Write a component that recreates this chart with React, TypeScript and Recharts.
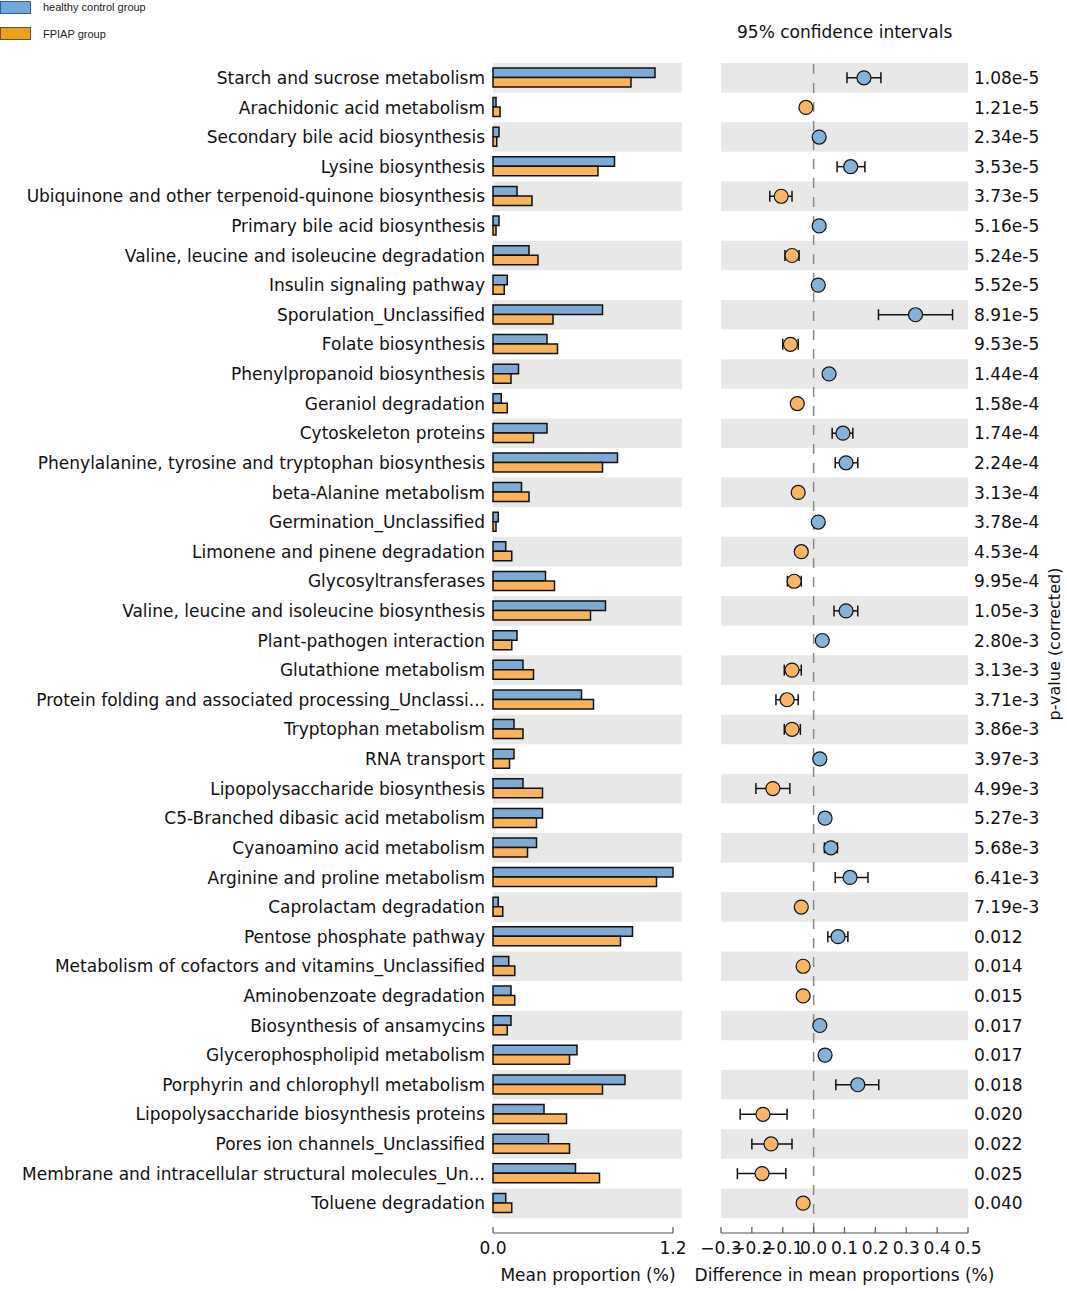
import React from 'react';
import {
  BarChart,
  Bar,
  ComposedChart,
  Scatter,
  ErrorBar,
  XAxis,
  YAxis,
  ReferenceArea,
  ReferenceLine,
} from 'recharts';

const categories = [
  'Starch and sucrose metabolism',
  'Arachidonic acid metabolism',
  'Secondary bile acid biosynthesis',
  'Lysine biosynthesis',
  'Ubiquinone and other terpenoid-quinone biosynthesis',
  'Primary bile acid biosynthesis',
  'Valine, leucine and isoleucine degradation',
  'Insulin signaling pathway',
  'Sporulation_Unclassified',
  'Folate biosynthesis',
  'Phenylpropanoid biosynthesis',
  'Geraniol degradation',
  'Cytoskeleton proteins',
  'Phenylalanine, tyrosine and tryptophan biosynthesis',
  'beta-Alanine metabolism',
  'Germination_Unclassified',
  'Limonene and pinene degradation',
  'Glycosyltransferases',
  'Valine, leucine and isoleucine biosynthesis',
  'Plant-pathogen interaction',
  'Glutathione metabolism',
  'Protein folding and associated processing_Unclassi...',
  'Tryptophan metabolism',
  'RNA transport',
  'Lipopolysaccharide biosynthesis',
  'C5-Branched dibasic acid metabolism',
  'Cyanoamino acid metabolism',
  'Arginine and proline metabolism',
  'Caprolactam degradation',
  'Pentose phosphate pathway',
  'Metabolism of cofactors and vitamins_Unclassified',
  'Aminobenzoate degradation',
  'Biosynthesis of ansamycins',
  'Glycerophospholipid metabolism',
  'Porphyrin and chlorophyll metabolism',
  'Lipopolysaccharide biosynthesis proteins',
  'Pores ion channels_Unclassified',
  'Membrane and intracellular structural molecules_Un...',
  'Toluene degradation',
];

// mean proportion (%)
const healthy = [
  1.08, 0.02, 0.04, 0.81, 0.16, 0.04, 0.24, 0.095, 0.73, 0.36, 0.17, 0.055, 0.36,
  0.83, 0.19, 0.035, 0.085, 0.35, 0.75, 0.16, 0.2, 0.59, 0.14, 0.14, 0.2, 0.33,
  0.29, 1.2, 0.035, 0.93, 0.105, 0.12, 0.12, 0.56, 0.88, 0.34, 0.37, 0.55, 0.085,
];
const fpiap = [
  0.92, 0.047, 0.025, 0.7, 0.26, 0.02, 0.3, 0.075, 0.4, 0.43, 0.12, 0.095, 0.27,
  0.73, 0.24, 0.02, 0.125, 0.41, 0.65, 0.125, 0.27, 0.67, 0.2, 0.11, 0.33, 0.29,
  0.23, 1.09, 0.065, 0.85, 0.145, 0.145, 0.095, 0.51, 0.73, 0.49, 0.51, 0.71, 0.125,
];

// difference in mean proportions with 95% CI
const diff = [
  0.163, -0.025, 0.018, 0.12, -0.105, 0.018, -0.07, 0.015, 0.33, -0.075, 0.05,
  -0.053, 0.095, 0.105, -0.05, 0.015, -0.04, -0.063, 0.105, 0.028, -0.07, -0.086,
  -0.07, 0.02, -0.132, 0.037, 0.056, 0.118, -0.04, 0.079, -0.034, -0.034, 0.02,
  0.037, 0.143, -0.164, -0.138, -0.167, -0.034,
];
const ciLow = [
  0.108, -0.033, 0.01, 0.076, -0.142, 0.01, -0.093, 0.007, 0.21, -0.1, 0.042,
  -0.061, 0.06, 0.07, -0.058, 0.007, -0.048, -0.085, 0.066, 0.02, -0.095, -0.122,
  -0.095, 0.012, -0.187, 0.022, 0.035, 0.07, -0.048, 0.046, -0.042, -0.042, 0.012,
  0.022, 0.072, -0.238, -0.2, -0.247, -0.042,
];
const ciHigh = [
  0.218, -0.017, 0.026, 0.166, -0.07, 0.026, -0.047, 0.023, 0.45, -0.05, 0.058,
  -0.045, 0.127, 0.143, -0.042, 0.023, -0.032, -0.04, 0.143, 0.036, -0.04, -0.05,
  -0.043, 0.028, -0.077, 0.052, 0.077, 0.176, -0.032, 0.111, -0.026, -0.026, 0.028,
  0.052, 0.211, -0.086, -0.07, -0.09, -0.026,
];

const pValues = [
  '1.08e-5', '1.21e-5', '2.34e-5', '3.53e-5', '3.73e-5', '5.16e-5', '5.24e-5',
  '5.52e-5', '8.91e-5', '9.53e-5', '1.44e-4', '1.58e-4', '1.74e-4', '2.24e-4',
  '3.13e-4', '3.78e-4', '4.53e-4', '9.95e-4', '1.05e-3', '2.80e-3', '3.13e-3',
  '3.71e-3', '3.86e-3', '3.97e-3', '4.99e-3', '5.27e-3', '5.68e-3', '6.41e-3',
  '7.19e-3', '0.012', '0.014', '0.015', '0.017', '0.017', '0.018', '0.020',
  '0.022', '0.025', '0.040',
];

const meanTicks = [0, 1.2];
const diffTicks = [-0.3, -0.2, -0.1, 0, 0.1, 0.2, 0.3, 0.4, 0.5];

const rows = categories.map((name, i) => ({
  name,
  healthy: healthy[i],
  fpiap: fpiap[i],
  diff: diff[i],
  err: [diff[i] - ciLow[i], ciHigh[i] - diff[i]],
  p: pValues[i],
}));

const FONT = '"DejaVu Sans", sans-serif';
const BLUE = '#7eaad4';
const ORANGE = '#f8b35c';
const DOT_BLUE = '#86b2d9';
const DOT_ORANGE = '#f8b566';
const BAND = '#e8e8e8';

const W = 1067;
const H = 1291;
const TOP = 63;
const XAXIS_H = 58;
const MID_LEFT = 660;

const NameTick = (props: any) => {
  const { x, y, payload } = props;
  return (
    <text x={x} y={y} dy="0.36em" textAnchor="end" fontSize={17} fill="#111" fontFamily={FONT}>
      {payload.value}
    </text>
  );
};

const PTick = (props: any) => {
  const { x, y, index } = props;
  return (
    <text x={x - 2} y={y} dy="0.36em" textAnchor="start" fontSize={17} fill="#111" fontFamily={FONT}>
      {pValues[index]}
    </text>
  );
};

const fmt = (v: number) => (v < 0 ? '\u2212' + Math.abs(v).toFixed(1) : v.toFixed(1));

const InTick = (props: any) => {
  const { x, y, payload } = props;
  return (
    <g>
      <line x1={x} x2={x} y1={y - 6} y2={y} stroke="#555" strokeWidth={1.2} />
      <text x={x} y={y + 21} textAnchor="middle" fontSize={17} fill="#111" fontFamily={FONT}>
        {fmt(payload.value)}
      </text>
    </g>
  );
};

const PLabel = (props: any) => {
  const { viewBox } = props;
  const cx = viewBox.x + viewBox.width - 13;
  const cy = viewBox.y + viewBox.height / 2 - 4;
  return (
    <text
      x={cx}
      y={cy}
      transform={`rotate(-90, ${cx}, ${cy})`}
      textAnchor="middle"
      dominantBaseline="central"
      fontSize={16}
      fill="#111"
      fontFamily={FONT}
    >
      p-value (corrected)
    </text>
  );
};

const Dot = (props: any) => {
  const { cx, cy, payload } = props;
  if (cx == null || cy == null) return null;
  return (
    <circle
      cx={cx}
      cy={cy}
      r={7}
      fill={payload.diff >= 0 ? DOT_BLUE : DOT_ORANGE}
      stroke="#111"
      strokeWidth={1.2}
    />
  );
};

const NoDot = () => <g />;

export default function App() {
  const even = categories.filter((_, i) => i % 2 === 0);

  return (
    <div style={{ position: 'absolute', left: 0, top: 0, width: W, height: H, background: '#fff', fontFamily: FONT }}>
      {/* legend */}
      <div style={{ position: 'absolute', left: 0, top: 0, fontFamily: '"Liberation Sans", Arial, sans-serif', fontSize: 11, color: '#222' }}>
        <div style={{ position: 'absolute', left: 0, top: 1, width: 29, height: 11, background: '#6fa8dc', border: '1px solid #3d5d80' }} />
        <div style={{ position: 'absolute', left: 43, top: 1, whiteSpace: 'nowrap' }}>healthy control group</div>
        <div style={{ position: 'absolute', left: 0, top: 27, width: 29, height: 11, background: '#e8a21c', border: '1px solid #6b5020' }} />
        <div style={{ position: 'absolute', left: 43, top: 28, whiteSpace: 'nowrap' }}>FPIAP group</div>
      </div>

      <div style={{ position: 'absolute', left: 737, top: 22, fontSize: 17, color: '#111', whiteSpace: 'nowrap' }}>
        95% confidence intervals
      </div>

      {/* mean proportions */}
      <div style={{ position: 'absolute', left: 0, top: 0 }}>
        <BarChart
          width={700}
          height={H}
          data={rows}
          layout="vertical"
          margin={{ top: TOP, right: 27, left: 0, bottom: 0 }}
          barSize={9.5}
          barGap={0}
        >
          {even.map((c) => (
            <ReferenceArea
              key={c}
              y1={c}
              y2={c}
              x1={0}
              x2={1.26}
              fill={BAND}
              fillOpacity={1}
              stroke="none"
              ifOverflow="visible"
            />
          ))}
          <XAxis
            type="number"
            domain={[0, 1.2]}
            ticks={meanTicks}
            interval={0}
            height={XAXIS_H}
            tickSize={0}
            tickMargin={0}
            tickLine={false}
            tick={<InTick />}
            axisLine={{ stroke: '#555', strokeWidth: 1.2 }}
            label={{ value: 'Mean proportion (%)', position: 'insideBottom', offset: 10, dx: 5, fontSize: 17, fill: '#111', fontFamily: FONT }}
          />
          <YAxis
            type="category"
            dataKey="name"
            width={493}
            padding={{ top: 0, bottom: 15 }}
            tickLine={false}
            axisLine={false}
            interval={0}
            tick={<NameTick />}
          />
          <Bar dataKey="healthy" fill={BLUE} stroke="#111" strokeWidth={1.5} isAnimationActive={false} />
          <Bar dataKey="fpiap" fill={ORANGE} stroke="#111" strokeWidth={1.5} isAnimationActive={false} />
        </BarChart>
      </div>

      {/* difference in mean proportions */}
      <div style={{ position: 'absolute', left: MID_LEFT, top: 0 }}>
        <ComposedChart
          width={W - MID_LEFT}
          height={H}
          data={rows}
          layout="vertical"
          margin={{ top: TOP, right: 0, left: 721 - MID_LEFT, bottom: 0 }}
        >
          {even.map((c) => (
            <ReferenceArea
              key={c}
              y1={c}
              y2={c}
              fill={BAND}
              fillOpacity={1}
              stroke="none"
              ifOverflow="visible"
            />
          ))}
          <ReferenceLine x={0} stroke="#888" strokeWidth={1.5} strokeDasharray="10 9" />
          <XAxis
            type="number"
            dataKey="diff"
            domain={[-0.3, 0.5]}
            allowDataOverflow
            ticks={diffTicks}
            interval={0}
            height={XAXIS_H}
            tickSize={0}
            tickMargin={0}
            tickLine={false}
            tick={<InTick />}
            axisLine={{ stroke: '#555', strokeWidth: 1.2 }}
            label={{ value: 'Difference in mean proportions (%)', position: 'insideBottom', offset: 10, fontSize: 17, fill: '#111', fontFamily: FONT }}
          />
          <YAxis
            type="category"
            scale="band"
            dataKey="name"
            orientation="right"
            width={99}
            padding={{ top: 0, bottom: 15 }}
            tickLine={false}
            axisLine={false}
            interval={0}
            tick={<PTick />}
            label={<PLabel />}
          />
          <Scatter dataKey="diff" shape={<NoDot />} isAnimationActive={false}>
            <ErrorBar
              dataKey="err"
              direction="x"
              width={5.5}
              stroke="#111"
              strokeWidth={1.5}
              isAnimationActive={false}
              zIndex={550}
            />
          </Scatter>
          <Scatter dataKey="diff" shape={<Dot />} isAnimationActive={false} />
        </ComposedChart>
      </div>
    </div>
  );
}
